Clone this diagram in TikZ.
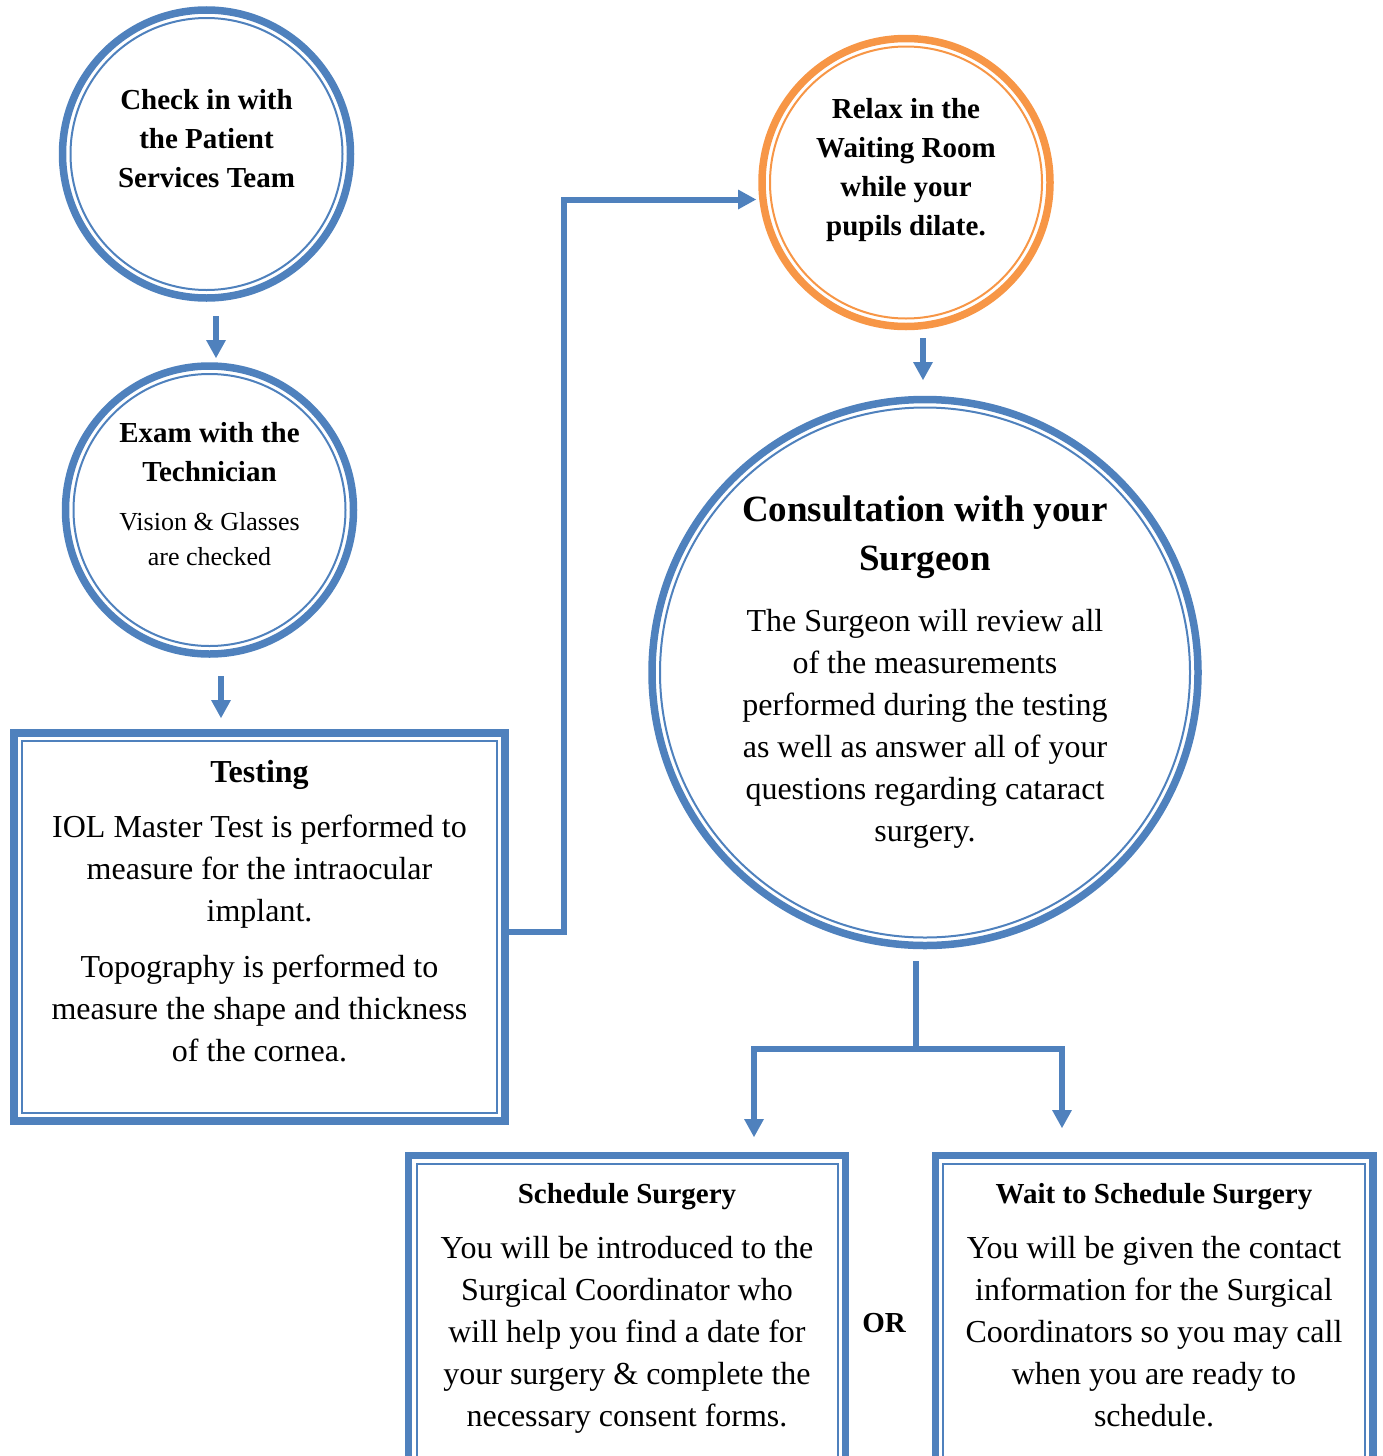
\documentclass[tikz,border=0pt]{standalone}
\usepackage{fontspec}
\setmainfont{Liberation Serif}
\usetikzlibrary{arrows.meta}
\definecolor{ringblue}{HTML}{4F81BD}
\definecolor{ringorange}{HTML}{F79646}

\tikzset{
  ring/.style={circle, draw=#1, line width=7.5pt, outer sep=0pt, inner sep=0pt},
  boxframe/.style={rectangle, draw=ringblue, line width=7.5pt, outer sep=0pt, inner sep=0pt},
  txt/.style={inner sep=0pt, align=flush center, text width=#1},
  bodyfont/.style={font=\fontsize{32}{42}\selectfont},
  headfont/.style={font=\fontsize{29}{39}\selectfont\bfseries},
  flowarrow/.style={draw=ringblue, line width=6pt, -{Triangle[width=20pt,length=18pt,line width=0pt]}},
  link/.style={draw=ringblue, line width=6pt}
}

\begin{document}
\begin{tikzpicture}[x=1pt, y=-1pt]
\clip (0,0) rectangle (1382,1456);

%% 圆形节点: 外圈粗线, 内圈细线
\node[ring=ringblue, minimum size=288pt] (check) at (206.5,154) {};
\node[ring=ringblue, minimum size=288pt] (exam) at (209.5,510) {};
\node[ring=ringorange, minimum size=288pt] (relax) at (906,182.5) {};
\node[ring=ringblue, minimum size=546pt] (consult) at (925,672.5) {};

\foreach \n/\r/\c in {check/136/ringblue, exam/136/ringblue, relax/136/ringorange, consult/265/ringblue}
  \draw[\c, line width=2pt] (\n.center) circle (\r);

%% 方框节点
\node[boxframe, minimum width=491pt, minimum height=388pt] (testing) at (259.5,927) {};
\node[boxframe, minimum width=437pt, minimum height=340pt] (sched) at (627,1325.5) {};
\node[boxframe, minimum width=437.5pt, minimum height=340pt] (wait) at (1154,1325.5) {};

\foreach \n in {testing, sched, wait}
  \draw[ringblue, line width=2pt] ([shift={(8,8)}]\n.north west) rectangle ([shift={(-8,-8)}]\n.south east);

%% 文字
\node[txt=220pt, headfont] (checktxt) at ([yshift=15pt]check.center)
  {Check in with\\ the Patient\\ Services Team};
\node[txt=220pt, headfont] (examtxt) at ([yshift=15.5pt]exam.center)
  {{Exam with the\\ Technician\par}\vspace{14pt}
   {\fontsize{26}{35}\selectfont\mdseries Vision \& Glasses\\ are checked\par}};
\node[txt=220pt, headfont] (relaxtxt) at ([yshift=12pt]relax.center)
  {Relax in the\\ Waiting Room\\ while your\\ pupils dilate.};
\node[txt=420pt, bodyfont] (consulttxt) at (consult.center)
  {{\fontsize{37}{49}\selectfont\bfseries Consultation with your\\ Surgeon\par}\vspace{19pt}
   The Surgeon will review all\\ of the measurements\\ performed during the testing\\
   as well as answer all of your\\ questions regarding cataract\\ surgery.\par};
\node[txt=450pt, bodyfont] (testingtxt) at ([yshift=15.5pt]testing.center)
  {{\bfseries Testing\par}\vspace{13pt}
   IOL Master Test is performed to\\ measure for the intraocular\\ implant.\par\vspace{14pt}
   Topography is performed to\\ measure the shape and thickness\\ of the cornea.\par};
\node[txt=420pt, bodyfont] (schedtxt) at ([yshift=-153pt]sched.north)
  {{\fontsize{29}{39}\selectfont\bfseries Schedule Surgery\par}\vspace{13pt}
   You will be introduced to the\\ Surgical Coordinator who\\ will help you find a date for\\
   your surgery \& complete the\\ necessary consent forms.\par};
\node[txt=420pt, bodyfont] (waittxt) at ([yshift=-149.5pt]wait.north)
  {{\fontsize{29}{39}\selectfont\bfseries Wait to Schedule Surgery\par}\vspace{13pt}
   You will be given the contact\\ information for the Surgical\\ Coordinators so you may call\\
   when you are ready to\\ schedule.\par};
\node[headfont] (ortxt) at (884,1323) {OR};

%% 箭头
\draw[flowarrow] ([xshift=9.5pt,yshift=-18pt]check.south) -- ++(0,42);
\draw[flowarrow] ([xshift=11.5pt,yshift=-22pt]exam.south) -- ++(0,42);
\draw[flowarrow] ([xshift=17pt,yshift=-11.5pt]relax.south) -- ++(0,42);

\coordinate (relaxin) at ([xshift=-6pt,yshift=-17pt]relax.west);
\draw[flowarrow] ([yshift=-5pt]testing.east) -- ++(59,0) |- (relaxin);

\draw[link] ([xshift=-9pt,yshift=-15.5pt]consult.south) -- ++(0,88) coordinate (fork);
\coordinate (schedin) at (754,1137);
\coordinate (waitin) at (1062,1128);
\draw[flowarrow] (fork) -| (schedin);
\draw[flowarrow] (fork) -| (waitin);

\end{tikzpicture}
\end{document}
